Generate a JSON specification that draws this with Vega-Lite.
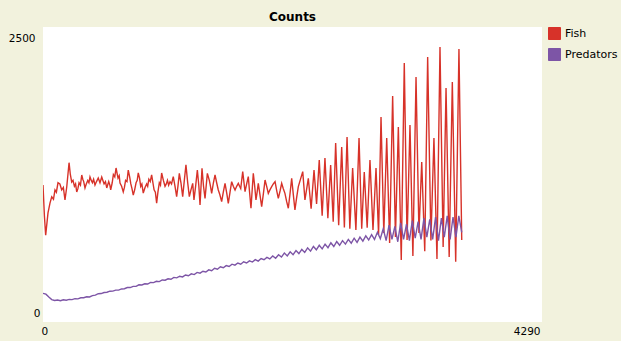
{
  "$schema": "https://vega.github.io/schema/vega-lite/v6.json",
  "width": 499,
  "height": 295,
  "autosize": {"type": "none"},
  "padding": {"left": 43, "top": 27, "right": 79, "bottom": 19},
  "background": "#f2f2dd",
  "view": {"fill": "white", "stroke": null},
  "title": {"text": "Counts", "font": "DejaVu Sans", "fontSize": 12, "fontWeight": "bold", "color": "#000000", "anchor": "middle", "baseline": "bottom", "offset": 5, "dy": 14},
  "datasets": {
    "fish": [
      {"t":0,"v":1161},{"t":12,"v":900},{"t":23,"v":735},{"t":43,"v":924},{"t":60,"v":1008},{"t":75,"v":1060},{"t":90,"v":1040},{"t":103,"v":1119},{"t":115,"v":1100},{"t":129,"v":1180},{"t":145,"v":1170},{"t":161,"v":1119},{"t":175,"v":1140},{"t":189,"v":1034},{"t":204,"v":1144},{"t":224,"v":1350},{"t":235,"v":1250},{"t":247,"v":1186},{"t":258,"v":1200},{"t":270,"v":1150},{"t":280,"v":1170},{"t":290,"v":1102},{"t":300,"v":1130},{"t":310,"v":1180},{"t":322,"v":1160},{"t":333,"v":1246},{"t":342,"v":1210},{"t":350,"v":1190},{"t":361,"v":1136},{"t":372,"v":1170},{"t":385,"v":1200},{"t":395,"v":1180},{"t":404,"v":1229},{"t":415,"v":1200},{"t":425,"v":1180},{"t":435,"v":1210},{"t":447,"v":1161},{"t":460,"v":1190},{"t":475,"v":1220},{"t":490,"v":1180},{"t":505,"v":1229},{"t":515,"v":1200},{"t":525,"v":1170},{"t":537,"v":1190},{"t":548,"v":1136},{"t":565,"v":1190},{"t":575,"v":1160},{"t":582,"v":1120},{"t":595,"v":1180},{"t":605,"v":1250},{"t":617,"v":1230},{"t":628,"v":1305},{"t":645,"v":1220},{"t":655,"v":1240},{"t":662,"v":1178},{"t":676,"v":1150},{"t":690,"v":1102},{"t":700,"v":1140},{"t":710,"v":1200},{"t":722,"v":1190},{"t":733,"v":1288},{"t":745,"v":1230},{"t":755,"v":1170},{"t":765,"v":1130},{"t":776,"v":1076},{"t":788,"v":1120},{"t":800,"v":1180},{"t":810,"v":1200},{"t":819,"v":1263},{"t":830,"v":1220},{"t":840,"v":1150},{"t":850,"v":1170},{"t":862,"v":1093},{"t":877,"v":1140},{"t":891,"v":1170},{"t":900,"v":1150},{"t":910,"v":1210},{"t":922,"v":1190},{"t":934,"v":1246},{"t":945,"v":1180},{"t":955,"v":1120},{"t":966,"v":1100},{"t":977,"v":1008},{"t":988,"v":1100},{"t":1000,"v":1180},{"t":1010,"v":1160},{"t":1020,"v":1263},{"t":1035,"v":1200},{"t":1049,"v":1150},{"t":1060,"v":1170},{"t":1070,"v":1200},{"t":1080,"v":1160},{"t":1092,"v":1189},{"t":1105,"v":1170},{"t":1120,"v":1232},{"t":1135,"v":1150},{"t":1149,"v":1062},{"t":1160,"v":1150},{"t":1172,"v":1260},{"t":1186,"v":1180},{"t":1201,"v":1062},{"t":1215,"v":1200},{"t":1229,"v":1331},{"t":1244,"v":1180},{"t":1258,"v":1062},{"t":1272,"v":1120},{"t":1287,"v":1175},{"t":1298,"v":1034},{"t":1312,"v":1150},{"t":1327,"v":1288},{"t":1340,"v":1150},{"t":1350,"v":992},{"t":1367,"v":1302},{"t":1380,"v":1150},{"t":1393,"v":1048},{"t":1413,"v":1260},{"t":1430,"v":1200},{"t":1440,"v":1150},{"t":1450,"v":1090},{"t":1465,"v":1180},{"t":1479,"v":1246},{"t":1493,"v":1180},{"t":1507,"v":1119},{"t":1520,"v":1080},{"t":1536,"v":1020},{"t":1550,"v":1100},{"t":1565,"v":1175},{"t":1580,"v":1090},{"t":1593,"v":1006},{"t":1608,"v":1100},{"t":1622,"v":1189},{"t":1636,"v":1150},{"t":1651,"v":1119},{"t":1665,"v":1150},{"t":1679,"v":1175},{"t":1690,"v":1150},{"t":1700,"v":1130},{"t":1717,"v":1274},{"t":1737,"v":1104},{"t":1751,"v":1170},{"t":1765,"v":1232},{"t":1776,"v":1100},{"t":1788,"v":964},{"t":1808,"v":1260},{"t":1820,"v":1150},{"t":1831,"v":1034},{"t":1841,"v":1100},{"t":1851,"v":1175},{"t":1865,"v":1080},{"t":1880,"v":977},{"t":1895,"v":1090},{"t":1909,"v":1203},{"t":1923,"v":1150},{"t":1937,"v":1090},{"t":1951,"v":1120},{"t":1966,"v":1147},{"t":1980,"v":1170},{"t":1995,"v":1189},{"t":2010,"v":1110},{"t":2023,"v":1048},{"t":2038,"v":1110},{"t":2052,"v":1175},{"t":2066,"v":1130},{"t":2080,"v":1090},{"t":2095,"v":1020},{"t":2109,"v":964},{"t":2124,"v":1090},{"t":2138,"v":1218},{"t":2152,"v":1080},{"t":2166,"v":949},{"t":2180,"v":1050},{"t":2195,"v":1147},{"t":2233,"v":1274},{"t":2252,"v":1034},{"t":2281,"v":1218},{"t":2305,"v":960},{"t":2330,"v":1288},{"t":2352,"v":1000},{"t":2375,"v":1373},{"t":2400,"v":900},{"t":2424,"v":1390},{"t":2449,"v":880},{"t":2473,"v":1330},{"t":2495,"v":850},{"t":2516,"v":1517},{"t":2542,"v":820},{"t":2568,"v":1483},{"t":2591,"v":800},{"t":2614,"v":1568},{"t":2638,"v":790},{"t":2662,"v":1305},{"t":2690,"v":780},{"t":2717,"v":1559},{"t":2740,"v":790},{"t":2762,"v":1271},{"t":2787,"v":800},{"t":2811,"v":1373},{"t":2837,"v":780},{"t":2863,"v":1305},{"t":2885,"v":740},{"t":2906,"v":1737},{"t":2930,"v":754},{"t":2955,"v":1559},{"t":2980,"v":670},{"t":3006,"v":1915},{"t":3030,"v":720},{"t":3055,"v":1653},{"t":3080,"v":525},{"t":3106,"v":2195},{"t":3130,"v":695},{"t":3155,"v":1670},{"t":3180,"v":560},{"t":3207,"v":2076},{"t":3232,"v":754},{"t":3256,"v":1356},{"t":3282,"v":600},{"t":3307,"v":2246},{"t":3335,"v":690},{"t":3361,"v":1559},{"t":3387,"v":535},{"t":3413,"v":2331},{"t":3440,"v":636},{"t":3465,"v":1983},{"t":3492,"v":551},{"t":3519,"v":2034},{"t":3548,"v":510},{"t":3576,"v":2314},{"t":3600,"v":695}
    ],
    "pred": [
      {"t":0,"v":243},{"t":25,"v":236},{"t":50,"v":212},{"t":75,"v":190},{"t":100,"v":182},{"t":125,"v":186},{"t":150,"v":180},{"t":175,"v":188},{"t":200,"v":185},{"t":225,"v":192},{"t":250,"v":190},{"t":275,"v":198},{"t":300,"v":196},{"t":325,"v":205},{"t":350,"v":206},{"t":375,"v":214},{"t":400,"v":212},{"t":425,"v":224},{"t":450,"v":228},{"t":475,"v":240},{"t":500,"v":241},{"t":525,"v":250},{"t":550,"v":252},{"t":575,"v":261},{"t":600,"v":262},{"t":625,"v":270},{"t":650,"v":270},{"t":675,"v":280},{"t":700,"v":282},{"t":725,"v":292},{"t":750,"v":292},{"t":775,"v":302},{"t":800,"v":302},{"t":825,"v":315},{"t":850,"v":314},{"t":875,"v":324},{"t":900,"v":322},{"t":925,"v":336},{"t":950,"v":334},{"t":975,"v":345},{"t":1000,"v":342},{"t":1025,"v":356},{"t":1050,"v":354},{"t":1075,"v":366},{"t":1100,"v":362},{"t":1125,"v":378},{"t":1150,"v":374},{"t":1175,"v":388},{"t":1200,"v":382},{"t":1225,"v":398},{"t":1250,"v":392},{"t":1275,"v":408},{"t":1300,"v":402},{"t":1325,"v":420},{"t":1350,"v":414},{"t":1375,"v":430},{"t":1400,"v":424},{"t":1425,"v":442},{"t":1450,"v":434},{"t":1475,"v":455},{"t":1500,"v":447},{"t":1525,"v":468},{"t":1550,"v":460},{"t":1575,"v":478},{"t":1600,"v":470},{"t":1625,"v":490},{"t":1650,"v":482},{"t":1675,"v":500},{"t":1700,"v":490},{"t":1725,"v":510},{"t":1750,"v":500},{"t":1775,"v":518},{"t":1800,"v":508},{"t":1825,"v":528},{"t":1850,"v":516},{"t":1875,"v":538},{"t":1900,"v":528},{"t":1925,"v":548},{"t":1950,"v":535},{"t":1975,"v":560},{"t":2000,"v":540},{"t":2025,"v":570},{"t":2050,"v":550},{"t":2075,"v":585},{"t":2100,"v":560},{"t":2125,"v":595},{"t":2150,"v":570},{"t":2175,"v":605},{"t":2200,"v":580},{"t":2225,"v":615},{"t":2250,"v":590},{"t":2275,"v":628},{"t":2300,"v":600},{"t":2325,"v":640},{"t":2350,"v":612},{"t":2375,"v":650},{"t":2400,"v":620},{"t":2425,"v":660},{"t":2450,"v":630},{"t":2475,"v":672},{"t":2500,"v":640},{"t":2525,"v":682},{"t":2550,"v":650},{"t":2575,"v":690},{"t":2600,"v":660},{"t":2625,"v":700},{"t":2650,"v":668},{"t":2675,"v":710},{"t":2700,"v":675},{"t":2725,"v":720},{"t":2750,"v":685},{"t":2775,"v":730},{"t":2800,"v":695},{"t":2825,"v":740},{"t":2850,"v":700},{"t":2875,"v":760},{"t":2900,"v":705},{"t":2925,"v":790},{"t":2950,"v":690},{"t":2975,"v":820},{"t":3000,"v":700},{"t":3025,"v":810},{"t":3050,"v":680},{"t":3075,"v":840},{"t":3100,"v":700},{"t":3125,"v":830},{"t":3150,"v":690},{"t":3175,"v":860},{"t":3200,"v":710},{"t":3225,"v":850},{"t":3250,"v":700},{"t":3275,"v":880},{"t":3300,"v":720},{"t":3325,"v":870},{"t":3350,"v":700},{"t":3375,"v":890},{"t":3400,"v":690},{"t":3425,"v":880},{"t":3450,"v":720},{"t":3475,"v":900},{"t":3500,"v":700},{"t":3525,"v":890},{"t":3550,"v":720},{"t":3575,"v":900},{"t":3600,"v":760}
    ]
  },
  "encoding": {
    "x": {"field": "t", "type": "quantitative", "scale": {"domain": [0, 4290], "nice": false, "zero": false},
      "axis": {"values": [0, 4290], "format": "d", "title": null, "ticks": false, "domain": false, "grid": false, "labelFont": "DejaVu Sans", "labelFontSize": 10.5, "labelColor": "#000000", "labelPadding": 4, "labelFlush": false, "labelOverlap": false, "labelBound": false, "labelAlign": {"expr": "datum.value == 0 ? 'left' : 'right'"}, "labelOffset": {"expr": "datum.value == 0 ? -2 : -2"}}},
    "y": {"field": "v", "type": "quantitative", "scale": {"domain": [0, 2500], "nice": false},
      "axis": {"values": [0, 2500], "format": "d", "title": null, "ticks": false, "domain": false, "grid": false, "labelFont": "DejaVu Sans", "labelFontSize": 10.5, "labelColor": "#000000", "labelFlush": false, "labelOverlap": false, "labelBound": false, "labelPadding": {"expr": "datum.value == 0 ? 3 : 8"}, "labelBaseline": {"expr": "datum.value == 0 ? 'bottom' : 'top'"}, "labelOffset": {"expr": "datum.value == 0 ? -4 : 6"}}},
    "color": {"type": "nominal", "scale": {"domain": ["Fish", "Predators"], "range": ["#d73229", "#7d55a6"]},
      "legend": {"title": null, "orient": "right", "offset": 6, "padding": 0, "symbolType": "square", "symbolSize": 144, "symbolStrokeWidth": 1, "symbolStrokeColor": "#3a3a3a", "symbolOpacity": 1, "labelFont": "DejaVu Sans", "labelFontSize": 11, "labelColor": "#000000", "labelOffset": 4, "rowPadding": 4,
        "encode": {"symbols": {"update": {"fill": {"scale": "color", "field": "value"}, "fillOpacity": {"value": 1}, "stroke": {"value": "#3a3a3a"}, "strokeWidth": {"value": 1}}}}}}
  },
  "layer": [
    {"data": {"name": "fish"}, "mark": {"type": "line", "strokeWidth": 1.4, "clip": true}, "encoding": {"color": {"datum": "Fish"}}},
    {"data": {"name": "pred"}, "mark": {"type": "line", "strokeWidth": 1.4, "clip": true}, "encoding": {"color": {"datum": "Predators"}}}
  ]
}
